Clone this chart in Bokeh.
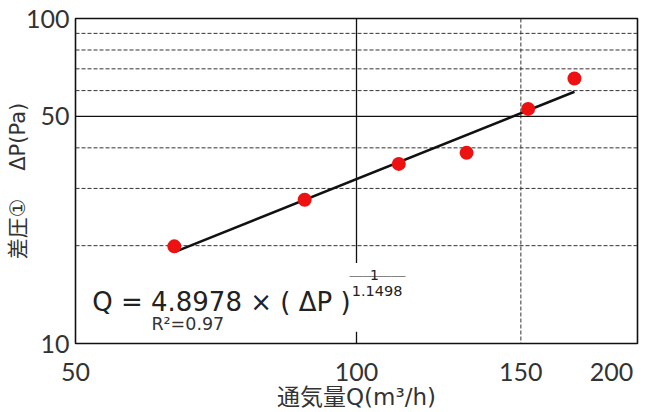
from bokeh.plotting import figure
from bokeh.models import Range1d, FixedTicker, Span, Label, BoxAnnotation, BasicTickFormatter
from bokeh.embed import file_html
from bokeh.resources import INLINE

# measured points: airflow Q (m3/h) vs differential pressure dP (Pa)
flow_q = [63.8, 88.0, 111.0, 131.2, 152.7, 171.2]
dp = [19.9, 27.7, 35.7, 38.6, 52.7, 65.4]
# fitted line end points: Q = 4.8978 * dP^(1/1.1498)
fit_q = [63.8, 171.2]
fit_dp = [19.1, 59.5]

x_ticks = [50, 100, 150, 200]
y_ticks = [10, 50, 100]
x_grid_solid = [100]
x_grid_dash = [150]
y_grid_solid = [50]
y_grid_dash = [20, 30, 40, 60, 70, 80, 90]

JP = "Noto Sans CJK JP"
DV = "DejaVu Sans"
MIX = "'DejaVu Sans', 'Noto Sans CJK JP'"
NB = "\u00a0"

p = figure(width=652, height=412, x_axis_type="log", y_axis_type="log",
           x_range=Range1d(50, 200), y_range=Range1d(10, 100),
           output_backend="svg", toolbar_location=None,
           min_border_left=75, min_border_right=15, min_border_top=18,
           min_border_bottom=63)

p.background_fill_color = "white"
p.border_fill_color = "white"
p.outline_line_color = "#111111"
p.outline_line_width = 1.6
p.xgrid.visible = False
p.ygrid.visible = False

for ax in (p.xaxis[0], p.yaxis[0]):
    ax.axis_line_color = None
    ax.major_tick_line_color = None
    ax.minor_tick_line_color = None
    ax.major_tick_out = 0
    ax.major_tick_in = 0
    ax.formatter = BasicTickFormatter()
    ax.major_label_text_font = "Lato"
    ax.major_label_text_font_size = "25px"
    ax.major_label_text_color = "#333333"
    ax.axis_label_text_font = MIX
    ax.axis_label_text_font_style = "normal"
    ax.axis_label_text_color = "#333333"

p.xaxis.ticker = FixedTicker(ticks=x_ticks)
p.yaxis.ticker = FixedTicker(ticks=y_ticks)
# last x tick label pulled slightly left so it stays inside the canvas
p.xaxis.major_label_overrides = {x_ticks[-1]: str(x_ticks[-1]) + NB * 3}
p.xaxis.major_label_standoff = 12
p.yaxis.major_label_standoff = 6
p.xaxis.axis_label = "通気量Q(m³/h)"
p.yaxis.axis_label = "差圧①　" + NB + "ΔP(Pa)"
p.xaxis.axis_label_text_font_size = "23px"
p.yaxis.axis_label_text_font_size = "21px"
p.xaxis.axis_label_standoff = -5
p.yaxis.axis_label_standoff = -7

for v in x_grid_solid:
    p.add_layout(Span(location=v, dimension="height", line_color="#111111",
                      line_width=1.3, level="underlay"))
for v in x_grid_dash:
    p.add_layout(Span(location=v, dimension="height", line_color="#333333",
                      line_width=1, line_dash="4 2", level="underlay"))
for v in y_grid_solid:
    p.add_layout(Span(location=v, dimension="width", line_color="#111111",
                      line_width=1.3, level="underlay"))
for v in y_grid_dash:
    p.add_layout(Span(location=v, dimension="width", line_color="#333333",
                      line_width=1, line_dash="4 2", level="underlay"))

# white panel behind the equation
p.add_layout(BoxAnnotation(left=55, right=118, bottom=10.87, top=17.69,
                           fill_color="white", fill_alpha=1.0, line_color=None,
                           level="underlay"))

p.line(fit_q, fit_dp, line_color="#111111", line_width=2.6)
p.scatter(flow_q, dp, size=14, fill_color="#ee1111", line_color=None)

p.add_layout(Label(x=52.1, y=13.42, text="Q = 4.8978 × ( ΔP )",
                   text_font=DV, text_font_size="26px", text_color="#222222",
                   text_baseline="alphabetic"))
p.add_layout(Label(x=104.5, y=16.27, text="1", text_font=DV,
                   text_font_size="14px", text_color="#222222", text_baseline="alphabetic",
                   text_align="center"))
p.add_layout(Label(x=105.3, y=16.30, text="────", text_font=JP,
                   text_font_size="14px", text_color="#222222", text_baseline="middle",
                   text_align="center"))
p.add_layout(Label(x=105.2, y=14.49, text="1.1498", text_font=DV,
                   text_font_size="14.5px", text_color="#222222", text_baseline="alphabetic",
                   text_align="center"))
p.add_layout(Label(x=60.3, y=11.45, text="R²=0.97", text_font=DV,
                   text_font_size="17.5px", text_color="#333333", text_baseline="alphabetic"))

open("out.html", "w").write(file_html(p, INLINE))
